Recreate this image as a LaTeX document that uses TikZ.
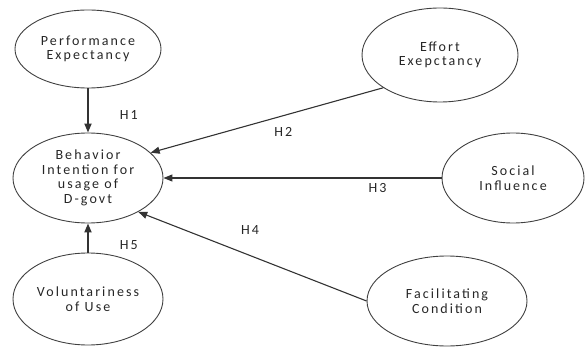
\documentclass[tikz,border=0pt]{standalone}
\usepackage{fontspec}
\setmainfont{Carlito}[LetterSpace=15]
\usepackage{tikz}
\usetikzlibrary{shapes.geometric,arrows.meta,positioning}

\begin{document}
\begin{tikzpicture}[x=1pt, y=-1pt, every node/.style={font=\fontsize{14}{14.5}\selectfont, text=black!85}]
\useasboundingbox (0,0) rectangle (585,347);
\tikzset{construct/.style={ellipse, draw=black!75, line width=0.9pt, inner sep=0pt, align=center},
  hyp/.style={-{Triangle[length=9pt, width=7pt]}, line width=1.1pt, color=black!80},
  hlabel/.style={inner sep=1pt}}
\node[construct, minimum width=146pt, minimum height=78pt] (pe) at (88,49) {Performance\\Expectancy};
\node[construct, minimum width=150pt, minimum height=90pt] (bi) at (88,178) {Behavior\\Intention for\\usage of\\D-govt};
\node[construct, minimum width=150pt, minimum height=92pt] (vu) at (88,299) {Voluntariness\\of Use};
\node[construct, minimum width=156pt, minimum height=94pt] (ee) at (440,55) {Effort\\Exepctancy};
\node[construct, minimum width=142pt, minimum height=90pt] (si) at (513,178) {Social\\Influence};
\node[construct, minimum width=160pt, minimum height=90pt] (fc) at (447,301) {Facilitating\\Condition};
\draw[hyp, line width=1.8pt] (pe) -- node[hlabel, pos=0.6, right=30pt] {H1} (bi);
\draw[hyp] (ee.210) -- node[hlabel, pos=0.43, below=10pt] {H2} (bi.22);
\draw[hyp] (si.west) -- node[hlabel, pos=0.23, below=4pt] {H3} (bi.east);
\draw[hyp] (fc.west) -- node[hlabel, pos=0.51, above=20pt] {H4} (bi.326);
\draw[hyp, line width=1.8pt] (vu) -- node[hlabel, pos=0.25, right=30pt] {H5} (bi);
\end{tikzpicture}
\end{document}
